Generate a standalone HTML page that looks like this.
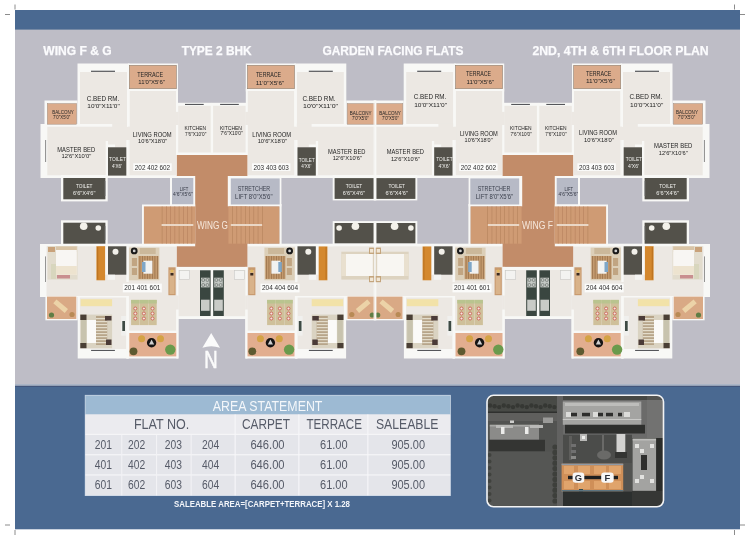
<!DOCTYPE html>
<html><head><meta charset="utf-8"><title>Wing F &amp; G - Type 2 BHK Floor Plan</title>
<style>
html,body{margin:0;padding:0;background:#fff;width:750px;height:540px;overflow:hidden}
svg{display:block}
#wrap{will-change:transform;width:750px;height:540px}
text{font-family:"Liberation Sans",sans-serif}
</style></head><body><div id="wrap">
<svg width="750" height="540" viewBox="0 0 750 540">
<defs>
<clipPath id="hc"><rect x="0" y="0" width="375.3" height="540"/></clipPath>
<clipPath id="aer"><rect x="487.5" y="395.8" width="175.5" height="110.5" rx="6"/></clipPath>
<g id="col">
<rect x="77.5" y="63.5" width="52.0" height="63.0" fill="#f8f8f6"/>
<rect x="128" y="63.5" width="50" height="28.0" fill="#f8f8f6"/>
<rect x="126.5" y="88.5" width="51.5" height="89.5" fill="#f8f8f6"/>
<rect x="44.5" y="100.5" width="33.0" height="26.0" fill="#f8f8f6"/>
<rect x="40.5" y="124" width="88.0" height="54" fill="#f8f8f6"/>
<rect x="176" y="102.8" width="36" height="52.4" fill="#f8f8f6"/>
<rect x="80" y="72" width="47" height="52" fill="#ece8e3"/>
<rect x="129.5" y="91" width="46.5" height="84.3" fill="#ece8e3"/>
<rect x="47.3" y="126.7" width="81.3" height="48.6" fill="#ece8e3"/>
<rect x="178.2" y="105.8" width="32.5" height="46.7" fill="#ece8e3"/>
<rect x="175.5" y="111.9" width="3.0" height="13.1" fill="#ece8e3"/>
<rect x="105.7" y="141" width="2.3" height="34.3" fill="#f8f8f6"/>
<rect x="126.3" y="140" width="2.4" height="35.3" fill="#f8f8f6"/>
<rect x="108" y="144.5" width="7" height="2.8" fill="#f8f8f6"/>
<rect x="127" y="72" width="2.5" height="54.7" fill="#f8f8f6"/>
<rect x="112.2" y="123.6" width="14.8" height="3.4" fill="#ece8e3"/>
<rect x="128" y="126.7" width="2" height="13.3" fill="#ece8e3"/>
<rect x="129.3" y="65.3" width="47.0" height="23.4" fill="#dbab8b" stroke="#8f7f70" stroke-width="0.6"/>
<rect x="47.3" y="103.6" width="29.3" height="20.6" fill="#dbab8b" stroke="#a08e80" stroke-width="0.5"/>
<rect x="108" y="147.3" width="18.3" height="28.3" fill="#53514a"/>
<rect x="91" y="70.7" width="24" height="1.2" fill="#55565a"/>
<rect x="185" y="103.9" width="18.7" height="1.1" fill="#55565a"/>
<rect x="45.1" y="140" width="1.0" height="22" fill="#8a8a8a"/>
<rect x="40" y="244" width="138.3" height="53" fill="#f8f8f6"/>
<rect x="45.4" y="296" width="32.3" height="24.3" fill="#f8f8f6"/>
<rect x="77.7" y="296" width="50.8" height="62.5" fill="#f8f8f6"/>
<rect x="126.5" y="244" width="52.0" height="114.5" fill="#f8f8f6"/>
<rect x="176.3" y="266.8" width="35.7" height="52.2" fill="#f8f8f6"/>
<rect x="46.5" y="246.3" width="129.8" height="49.7" fill="#ece8e3"/>
<rect x="128.7" y="246.3" width="47.6" height="84.5" fill="#ece8e3"/>
<rect x="79.9" y="297.5" width="46.6" height="51.5" fill="#ece8e3"/>
<rect x="178.4" y="270" width="32.2" height="46.2" fill="#ece8e3"/>
<rect x="126.3" y="246.3" width="2.4" height="35.7" fill="#f8f8f6"/>
<rect x="105.1" y="246.3" width="2.9" height="28.4" fill="#f8f8f6"/>
<rect x="126.3" y="296" width="2.6" height="62.5" fill="#f8f8f6"/>
<rect x="176.3" y="309.5" width="2.1" height="49.0" fill="#f8f8f6"/>
<rect x="176" y="295.5" width="2.6" height="14.0" fill="#ece8e3"/>
<rect x="128.7" y="330.8" width="47.6" height="2.2" fill="#f8f8f6"/>
<rect x="47" y="296.6" width="29.3" height="22.4" fill="#d9a985"/>
<rect x="129.3" y="333" width="47.0" height="23.4" fill="#e2ae8f"/>
<rect x="45.1" y="256.4" width="0.9" height="25.6" fill="#8a8a8a"/>
<rect x="91.1" y="349.9" width="23.8" height="1.1" fill="#55565a"/>
<rect x="108" y="245.7" width="18.3" height="29.0" fill="#53514a"/>
<circle cx="115.5" cy="251.8" r="3" fill="#f2f0ea"/>
<rect x="107.6" y="274.7" width="7.4" height="5.1" fill="#f4f4f2"/>
<rect x="96.4" y="246.2" width="8.7" height="34.1" fill="#d4882e"/>
<rect x="97.2" y="247" width="1.0" height="32.5" fill="#b8701f"/>
<rect x="129.1" y="247.6" width="30.3" height="32.7" fill="#dccfb8"/>
<rect x="138.4" y="256" width="20.1" height="22.9" fill="#c39a6e"/>
<rect x="139.5" y="256" width="0.8" height="22.9" fill="#9c744d"/>
<rect x="142" y="256" width="0.8" height="22.9" fill="#9c744d"/>
<rect x="144.5" y="256" width="0.8" height="22.9" fill="#9c744d"/>
<rect x="147" y="256" width="0.8" height="22.9" fill="#9c744d"/>
<rect x="149.5" y="256" width="0.8" height="22.9" fill="#9c744d"/>
<rect x="152" y="256" width="0.8" height="22.9" fill="#9c744d"/>
<rect x="154.5" y="256" width="0.8" height="22.9" fill="#9c744d"/>
<rect x="157" y="256" width="0.8" height="22.9" fill="#9c744d"/>
<rect x="139.8" y="248" width="15.9" height="6" fill="#cbb89a"/>
<rect x="143.5" y="260.7" width="8.9" height="13.0" fill="#f2f2f0"/>
<rect x="142" y="262" width="3.5" height="10" fill="#7fa6c6"/>
<rect x="131.9" y="258" width="5.1" height="8" fill="#c1a582"/>
<rect x="131.9" y="268" width="5.1" height="7" fill="#c1a582"/>
<circle cx="134.2" cy="250.9" r="3.4" fill="#1a1a1a"/>
<circle cx="134.2" cy="250.9" r="1.4" fill="#cfcfcf"/>
<rect x="168.4" y="267.3" width="7.2" height="27.9" fill="#c89a6f"/>
<rect x="169.5" y="270" width="5.0" height="24" fill="#d9b38a"/>
<circle cx="172" cy="271" r="1.6" fill="#e0b860"/>
<rect x="170.5" y="273" width="3.0" height="2.5" fill="#3a2a20"/>
<rect x="200" y="270.3" width="10.6" height="45.7" fill="#3a4640"/>
<rect x="201" y="277.7" width="8.6" height="9.7" fill="#c3c8c4"/>
<circle cx="203.2" cy="280" r="1.5" fill="none" stroke="#6d736f" stroke-width="0.7"/>
<circle cx="207.4" cy="280" r="1.5" fill="none" stroke="#6d736f" stroke-width="0.7"/>
<circle cx="203.2" cy="285" r="1.5" fill="none" stroke="#6d736f" stroke-width="0.7"/>
<circle cx="207.4" cy="285" r="1.5" fill="none" stroke="#6d736f" stroke-width="0.7"/>
<rect x="201" y="299.7" width="8.6" height="11.1" fill="#c9cbc7"/>
<rect x="179.2" y="270.6" width="10.3" height="8.7" fill="#f3f3f1" stroke="#c9c9c6" stroke-width="0.6"/>
<rect x="131.10000000000002" y="299.9" width="8.4" height="25.2" fill="#cfc09a"/>
<rect x="131.10000000000002" y="299.9" width="8.4" height="3.6" fill="#b9c48f"/>
<circle cx="135.3" cy="308.5" r="1.5" fill="#f4e6e0" stroke="#c9544a" stroke-width="0.8"/>
<circle cx="135.3" cy="313.5" r="1.5" fill="#f4e6e0" stroke="#c9544a" stroke-width="0.8"/>
<circle cx="135.3" cy="318.5" r="1.5" fill="#f4e6e0" stroke="#c9544a" stroke-width="0.8"/>
<rect x="139.70000000000002" y="299.9" width="8.4" height="25.2" fill="#cfc09a"/>
<rect x="139.70000000000002" y="299.9" width="8.4" height="3.6" fill="#b9c48f"/>
<circle cx="143.9" cy="308.5" r="1.5" fill="#f4e6e0" stroke="#c9544a" stroke-width="0.8"/>
<circle cx="143.9" cy="313.5" r="1.5" fill="#f4e6e0" stroke="#c9544a" stroke-width="0.8"/>
<circle cx="143.9" cy="318.5" r="1.5" fill="#f4e6e0" stroke="#c9544a" stroke-width="0.8"/>
<rect x="148.3" y="299.9" width="8.4" height="25.2" fill="#cfc09a"/>
<rect x="148.3" y="299.9" width="8.4" height="3.6" fill="#b9c48f"/>
<circle cx="152.5" cy="308.5" r="1.5" fill="#f4e6e0" stroke="#c9544a" stroke-width="0.8"/>
<circle cx="152.5" cy="313.5" r="1.5" fill="#f4e6e0" stroke="#c9544a" stroke-width="0.8"/>
<circle cx="152.5" cy="318.5" r="1.5" fill="#f4e6e0" stroke="#c9544a" stroke-width="0.8"/>
<rect x="80.6" y="299.2" width="31.5" height="7.0" fill="#f2e2a8"/>
<rect x="80.3" y="314.6" width="31.8" height="33.6" fill="#dad3c2"/>
<rect x="80.3" y="314.6" width="6.2" height="5.4" fill="#4a3f35"/>
<rect x="80.3" y="343" width="6.2" height="5.2" fill="#4a3f35"/>
<rect x="81" y="320" width="5.5" height="23" fill="#c8c3ae"/>
<rect x="86.9" y="320" width="9.1" height="23" fill="#fbfaf8"/>
<rect x="96" y="316" width="11.2" height="29" fill="#b7a58a"/>
<rect x="96" y="318" width="11.2" height="1.2" fill="#e3dccb"/>
<rect x="96" y="321" width="11.2" height="1.2" fill="#e3dccb"/>
<rect x="96" y="324" width="11.2" height="1.2" fill="#e3dccb"/>
<rect x="96" y="327" width="11.2" height="1.2" fill="#e3dccb"/>
<rect x="96" y="330" width="11.2" height="1.2" fill="#e3dccb"/>
<rect x="96" y="333" width="11.2" height="1.2" fill="#e3dccb"/>
<rect x="96" y="336" width="11.2" height="1.2" fill="#e3dccb"/>
<rect x="96" y="339" width="11.2" height="1.2" fill="#e3dccb"/>
<rect x="96" y="342" width="11.2" height="1.2" fill="#e3dccb"/>
<rect x="105" y="316" width="6.5" height="4.5" fill="#4b3b38"/>
<rect x="106" y="339.5" width="5.5" height="5.5" fill="#4b3b38"/>
<rect x="121.2" y="316" width="4.9" height="19.6" fill="#f0f0ee"/>
<rect x="122.3" y="321" width="2.7" height="10" fill="#3d4a44"/>
<rect x="53" y="304" width="15" height="5" fill="#ecd3a8" transform="rotate(40 61 306.5)"/>
<circle cx="51.5" cy="315" r="2.6" fill="#5f7d45"/>
<circle cx="72" cy="314.5" r="2.6" fill="#b88a55"/>
</g>
<g id="half" clip-path="url(#hc)">
<use href="#col"/>
<use href="#col" transform="translate(423.8,0) scale(-1,1)"/>
<rect x="107.5" y="176" width="226.0" height="2" fill="#f8f8f6"/>
<rect x="107.5" y="243.7" width="226.0" height="2.6" fill="#f8f8f6"/>
<rect x="176.8" y="155" width="70.6" height="111.8" fill="#c28c69"/>
<rect x="170" y="176" width="25.2" height="30.4" fill="#f8f8f6"/>
<rect x="172" y="178" width="21.3" height="26.5" fill="#b7bac6"/>
<rect x="142" y="204.5" width="53.2" height="41.8" fill="#f8f8f6"/>
<rect x="143.9" y="206.4" width="51.3" height="37.3" fill="#cf9b74"/>
<rect x="227.8" y="176" width="53.6" height="30.4" fill="#f8f8f6"/>
<rect x="279.4" y="204" width="2.2" height="42.3" fill="#f8f8f6"/>
<rect x="230.8" y="178.4" width="48.9" height="26.1" fill="#b7bac6"/>
<rect x="228.4" y="206.4" width="51.0" height="37.3" fill="#cf9b74"/>
<rect x="161.8" y="206.4" width="0.6" height="17.9" fill="#b5825d"/>
<rect x="161.8" y="225.9" width="0.6" height="17.8" fill="#b5825d"/>
<rect x="166.05" y="206.4" width="0.6" height="17.9" fill="#b5825d"/>
<rect x="166.05" y="225.9" width="0.6" height="17.8" fill="#b5825d"/>
<rect x="170.3" y="206.4" width="0.6" height="17.9" fill="#b5825d"/>
<rect x="170.3" y="225.9" width="0.6" height="17.8" fill="#b5825d"/>
<rect x="174.55" y="206.4" width="0.6" height="17.9" fill="#b5825d"/>
<rect x="174.55" y="225.9" width="0.6" height="17.8" fill="#b5825d"/>
<rect x="178.8" y="206.4" width="0.6" height="17.9" fill="#b5825d"/>
<rect x="178.8" y="225.9" width="0.6" height="17.8" fill="#b5825d"/>
<rect x="183.05" y="206.4" width="0.6" height="17.9" fill="#b5825d"/>
<rect x="183.05" y="225.9" width="0.6" height="17.8" fill="#b5825d"/>
<rect x="187.3" y="206.4" width="0.6" height="17.9" fill="#b5825d"/>
<rect x="187.3" y="225.9" width="0.6" height="17.8" fill="#b5825d"/>
<rect x="191.55" y="206.4" width="0.6" height="17.9" fill="#b5825d"/>
<rect x="191.55" y="225.9" width="0.6" height="17.8" fill="#b5825d"/>
<rect x="262.0" y="206.4" width="0.6" height="17.9" fill="#b5825d"/>
<rect x="262.0" y="225.9" width="0.6" height="17.8" fill="#b5825d"/>
<rect x="257.75" y="206.4" width="0.6" height="17.9" fill="#b5825d"/>
<rect x="257.75" y="225.9" width="0.6" height="17.8" fill="#b5825d"/>
<rect x="253.5" y="206.4" width="0.6" height="17.9" fill="#b5825d"/>
<rect x="253.5" y="225.9" width="0.6" height="17.8" fill="#b5825d"/>
<rect x="249.25" y="206.4" width="0.6" height="17.9" fill="#b5825d"/>
<rect x="249.25" y="225.9" width="0.6" height="17.8" fill="#b5825d"/>
<rect x="245.0" y="206.4" width="0.6" height="17.9" fill="#b5825d"/>
<rect x="245.0" y="225.9" width="0.6" height="17.8" fill="#b5825d"/>
<rect x="240.75" y="206.4" width="0.6" height="17.9" fill="#b5825d"/>
<rect x="240.75" y="225.9" width="0.6" height="17.8" fill="#b5825d"/>
<rect x="236.5" y="206.4" width="0.6" height="17.9" fill="#b5825d"/>
<rect x="236.5" y="225.9" width="0.6" height="17.8" fill="#b5825d"/>
<rect x="232.25" y="206.4" width="0.6" height="17.9" fill="#b5825d"/>
<rect x="232.25" y="225.9" width="0.6" height="17.8" fill="#b5825d"/>
<rect x="161.6" y="224.2" width="31.7" height="1.6" fill="#f1e6da"/>
<rect x="230.8" y="224.2" width="31.2" height="1.6" fill="#f1e6da"/>
<rect x="61" y="175" width="46.7" height="26.4" fill="#f8f8f6"/>
<rect x="63.3" y="178" width="42.1" height="21.3" fill="#53514a"/>
<rect x="104.8" y="181" width="0.8" height="15" fill="#8a8a8a"/>
<rect x="61" y="220.3" width="46.7" height="25.7" fill="#f8f8f6"/>
<rect x="63.3" y="222.7" width="42.1" height="21.0" fill="#53514a"/>
<circle cx="83.7" cy="226.3" r="3.8" fill="#f3f1ea"/>
<circle cx="98.3" cy="228" r="2.8" fill="#f3f1ea"/>
<rect x="104.8" y="226" width="0.8" height="14" fill="#8a8a8a"/>
<rect x="332.7" y="175" width="43.3" height="25.4" fill="#f8f8f6"/>
<rect x="334.6" y="178.1" width="39.3" height="20.8" fill="#53514a"/>
<rect x="332.7" y="221.1" width="43.3" height="24.9" fill="#f8f8f6"/>
<rect x="334.6" y="223" width="39.3" height="20.3" fill="#53514a"/>
<circle cx="339.1" cy="228" r="2.8" fill="#f3f1ea"/>
<circle cx="355.4" cy="226.3" r="3.8" fill="#f3f1ea"/>
<rect x="373.6" y="100.4" width="3.4" height="100.0" fill="#f8f8f6"/>
<rect x="373.6" y="221.1" width="3.4" height="99.2" fill="#f8f8f6"/>
<rect x="47.5" y="246" width="30.1" height="33.6" fill="#e2dccd"/>
<rect x="48" y="247" width="7" height="5" fill="#c9a27a"/>
<rect x="56" y="246.5" width="20.8" height="5.5" fill="#d9c4a6"/>
<rect x="56" y="250" width="20.8" height="24.8" fill="#f8f6f3"/>
<rect x="56" y="266" width="20.8" height="8.8" fill="#ede3cf"/>
<rect x="51" y="264" width="5" height="15" fill="#d8d6bd"/>
<rect x="57" y="275" width="13" height="3.5" fill="#c98f8f"/>
<rect x="341.3" y="251.7" width="33.0" height="27.9" fill="#ddd3c0"/>
<rect x="345.7" y="254" width="27.1" height="22" fill="#f8f6f2"/>
<rect x="341.3" y="254" width="4.7" height="22" fill="#e9e0cf"/>
<rect x="369" y="247.6" width="5.3" height="6.4" fill="#c4a57d"/>
<rect x="369" y="276" width="5.3" height="6.2" fill="#c4a57d"/>
<rect x="370" y="249" width="3.3" height="3.6" fill="#f1e7d6"/>
<rect x="370" y="277.6" width="3.3" height="3.4" fill="#f1e7d6"/>
</g>
</defs>
<rect x="15" y="10" width="725" height="374.4" fill="#bebdc6"/>
<rect x="15" y="10" width="725" height="19.6" fill="#4a6991"/>
<use href="#half"/>
<use href="#half" transform="translate(750,0) scale(-1,1)"/>
<rect x="133.3" y="163.3" width="38.4" height="7.6" fill="#fbfbfa"/>
<rect x="252.0" y="163.3" width="38.4" height="7.6" fill="#fbfbfa"/>
<rect x="459.2" y="163.3" width="38.4" height="7.6" fill="#fbfbfa"/>
<rect x="577.4" y="163.3" width="38.4" height="7.6" fill="#fbfbfa"/>
<rect x="122.8" y="283.6" width="39.0" height="8.8" fill="#fbfbfa"/>
<rect x="260.5" y="283.6" width="39.0" height="8.8" fill="#fbfbfa"/>
<rect x="452.5" y="283.6" width="39.0" height="8.8" fill="#fbfbfa"/>
<rect x="584.7" y="283.6" width="39.0" height="8.8" fill="#fbfbfa"/>
<circle cx="151.6" cy="342.8" r="4.7" fill="#161414"/>
<path d="M151.6 339.6 L154.2 344.4 L149 344.4 Z" fill="#cfcfcf"/>
<circle cx="141.6" cy="338.8" r="3.5" fill="#d4a345"/>
<circle cx="160.5" cy="338.8" r="3.5" fill="#d4a345"/>
<circle cx="133.5" cy="351.3" r="3.9" fill="#5e5a30"/>
<circle cx="170.3" cy="349.6" r="5.2" fill="#6a9a4c"/>
<circle cx="270.4" cy="342.8" r="4.7" fill="#161414"/>
<path d="M270.4 339.6 L273.0 344.4 L267.8 344.4 Z" fill="#cfcfcf"/>
<circle cx="260.4" cy="338.8" r="3.5" fill="#d4a345"/>
<circle cx="279.3" cy="338.8" r="3.5" fill="#d4a345"/>
<circle cx="252.3" cy="351.3" r="3.9" fill="#5e5a30"/>
<circle cx="289.1" cy="349.6" r="5.2" fill="#6a9a4c"/>
<circle cx="479.6" cy="342.8" r="4.7" fill="#161414"/>
<path d="M479.6 339.6 L482.2 344.4 L477 344.4 Z" fill="#cfcfcf"/>
<circle cx="469.6" cy="338.8" r="3.5" fill="#d4a345"/>
<circle cx="488.5" cy="338.8" r="3.5" fill="#d4a345"/>
<circle cx="461.5" cy="351.3" r="3.9" fill="#5e5a30"/>
<circle cx="498.3" cy="349.6" r="5.2" fill="#6a9a4c"/>
<circle cx="598.4" cy="342.8" r="4.7" fill="#161414"/>
<path d="M598.4 339.6 L601.0 344.4 L595.8 344.4 Z" fill="#cfcfcf"/>
<circle cx="588.4" cy="338.8" r="3.5" fill="#d4a345"/>
<circle cx="607.3" cy="338.8" r="3.5" fill="#d4a345"/>
<circle cx="580.3" cy="351.3" r="3.9" fill="#5e5a30"/>
<circle cx="617.1" cy="349.6" r="5.2" fill="#6a9a4c"/>
<path d="M211.2 333.1 L220 347.7 Q211.2 344.6 202.4 347.7 Z" fill="#fbfbfb"/>
<text x="204.3" y="368" font-size="23" fill="#fbfbfb" stroke="#fbfbfb" stroke-width="0.55" textLength="13.4" lengthAdjust="spacingAndGlyphs">N</text>
<line x1="15" y1="4.5" x2="15" y2="9.5" stroke="#6e6e6e" stroke-width="0.8"/>
<line x1="5" y1="14.5" x2="10" y2="14.5" stroke="#6e6e6e" stroke-width="0.8"/>
<line x1="734.5" y1="4.5" x2="734.5" y2="9.5" stroke="#6e6e6e" stroke-width="0.8"/>
<line x1="740" y1="14.5" x2="745" y2="14.5" stroke="#6e6e6e" stroke-width="0.8"/>
<line x1="15" y1="530" x2="15" y2="535" stroke="#6e6e6e" stroke-width="0.8"/>
<line x1="5" y1="525" x2="10" y2="525" stroke="#6e6e6e" stroke-width="0.8"/>
<line x1="734.5" y1="530" x2="734.5" y2="535" stroke="#6e6e6e" stroke-width="0.8"/>
<line x1="740" y1="525" x2="745" y2="525" stroke="#6e6e6e" stroke-width="0.8"/>
<rect x="15" y="384.4" width="725" height="144.9" fill="#4a6991"/>
<rect x="15" y="384.4" width="725" height="1.4" fill="#c3c7d3"/>
<rect x="15" y="385.8" width="725" height="1.1" fill="#42557a"/>
<rect x="84.80000000000001" y="394.9" width="366.0" height="101.1" fill="#c9d6e6"/>
<rect x="85.4" y="395.5" width="364.8" height="99.8" fill="#e4e5ea"/>
<rect x="85.4" y="395.5" width="364.8" height="19.0" fill="#9dbad3"/>
<rect x="85.4" y="414.5" width="364.8" height="19.3" fill="#ebebef"/>
<rect x="85.4" y="433.8" width="364.8" height="1.1" fill="#f7f7f9"/>
<rect x="85.4" y="454.2" width="364.8" height="1.1" fill="#f7f7f9"/>
<rect x="85.4" y="474.4" width="364.8" height="1.1" fill="#f7f7f9"/>
<rect x="234.6" y="414.5" width="1.1" height="80.8" fill="#f7f7f9"/>
<rect x="298.3" y="414.5" width="1.1" height="80.8" fill="#f7f7f9"/>
<rect x="367.3" y="414.5" width="1.1" height="80.8" fill="#f7f7f9"/>
<rect x="121.2" y="434.8" width="1.1" height="60.5" fill="#f2f2f5"/>
<rect x="156" y="434.8" width="1.1" height="60.5" fill="#f2f2f5"/>
<rect x="190.6" y="434.8" width="1.1" height="60.5" fill="#f2f2f5"/>
<g clip-path="url(#aer)"><rect x="486" y="394" width="179" height="114" fill="#525351"/><rect x="486" y="394" width="76" height="18" fill="#484a46"/><circle cx="490.0" cy="405.5" r="2.2" fill="#353733"/><circle cx="494.6" cy="406.3" r="2.2" fill="#353733"/><circle cx="499.2" cy="407.1" r="2.2" fill="#353733"/><circle cx="503.8" cy="405.5" r="2.2" fill="#353733"/><circle cx="508.4" cy="406.3" r="2.2" fill="#353733"/><circle cx="513.0" cy="407.1" r="2.2" fill="#353733"/><circle cx="517.6" cy="405.5" r="2.2" fill="#353733"/><circle cx="522.2" cy="406.3" r="2.2" fill="#353733"/><circle cx="526.8" cy="407.1" r="2.2" fill="#353733"/><circle cx="531.4" cy="405.5" r="2.2" fill="#353733"/><circle cx="536.0" cy="406.3" r="2.2" fill="#353733"/><circle cx="540.6" cy="407.1" r="2.2" fill="#353733"/><circle cx="545.2" cy="405.5" r="2.2" fill="#353733"/><circle cx="549.8" cy="406.3" r="2.2" fill="#353733"/><circle cx="554.4" cy="407.1" r="2.2" fill="#353733"/><rect x="486" y="411.5" width="76" height="1.5" fill="#2f302e"/><rect x="486" y="413" width="71" height="8" fill="#5f5f5d"/><rect x="510" y="420.5" width="4" height="2.5" fill="#cfcfcd"/><rect x="543" y="417.5" width="10" height="5.5" fill="#9a9a98"/><rect x="489.8" y="424.8" width="49.2" height="15.0" fill="#8b8b89"/><rect x="489.8" y="424.8" width="49.2" height="1.7" fill="#a8a8a6"/><rect x="496" y="425" width="17" height="3" fill="#b9b9b7"/><rect x="530" y="425" width="13" height="3" fill="#b9b9b7"/><rect x="501" y="427" width="3.5" height="7" fill="#ececea"/><rect x="525" y="427" width="3.5" height="7" fill="#ececea"/><rect x="489" y="439.8" width="56" height="11.7" fill="#343533"/><rect x="486" y="451.5" width="67" height="56.5" fill="#555654"/><circle cx="555" cy="447.0" r="2.6" fill="#3d3f3b"/><circle cx="555" cy="452.4" r="2.6" fill="#3d3f3b"/><circle cx="555" cy="457.8" r="2.6" fill="#3d3f3b"/><circle cx="555" cy="463.2" r="2.6" fill="#3d3f3b"/><circle cx="555" cy="468.6" r="2.6" fill="#3d3f3b"/><circle cx="555" cy="474.0" r="2.6" fill="#3d3f3b"/><circle cx="555" cy="479.4" r="2.6" fill="#3d3f3b"/><circle cx="555" cy="484.8" r="2.6" fill="#3d3f3b"/><circle cx="555" cy="490.2" r="2.6" fill="#3d3f3b"/><circle cx="555" cy="495.6" r="2.6" fill="#3d3f3b"/><circle cx="555" cy="501.0" r="2.6" fill="#3d3f3b"/><circle cx="489.5" cy="455.0" r="2" fill="#40423e"/><circle cx="489.5" cy="461.5" r="2" fill="#40423e"/><circle cx="489.5" cy="468.0" r="2" fill="#40423e"/><circle cx="489.5" cy="474.5" r="2" fill="#40423e"/><circle cx="489.5" cy="481.0" r="2" fill="#40423e"/><circle cx="489.5" cy="487.5" r="2" fill="#40423e"/><circle cx="489.5" cy="494.0" r="2" fill="#40423e"/><circle cx="489.5" cy="500.5" r="2" fill="#40423e"/><rect x="557" y="394" width="6" height="114" fill="#626261"/><rect x="563" y="394" width="84" height="6" fill="#454744"/><rect x="563" y="400" width="102" height="38" fill="#6b6b6a"/><rect x="562.8" y="401.5" width="78.5" height="23.3" fill="#a4a4a2"/><rect x="565" y="403" width="74" height="3" fill="#bdbdbb"/><rect x="571" y="412.8" width="6" height="3.5" fill="#2e2e2d"/><rect x="582" y="412.8" width="8" height="3.5" fill="#2e2e2d"/><rect x="598" y="412.8" width="5" height="3.5" fill="#2e2e2d"/><rect x="606" y="412.8" width="7" height="3.5" fill="#2e2e2d"/><rect x="618" y="412.8" width="4" height="3.5" fill="#2e2e2d"/><rect x="566" y="412" width="5" height="5" fill="#dcdcda"/><rect x="593" y="412" width="5" height="5" fill="#dcdcda"/><rect x="624" y="412" width="6" height="5" fill="#dcdcda"/><rect x="562.8" y="419" width="78.5" height="1" fill="#c9c9c7"/><rect x="565" y="424.8" width="80" height="8.7" fill="#2e2f2d"/><rect x="563" y="434.7" width="69" height="28.3" fill="#4b4c4a"/><rect x="569" y="436" width="3" height="24" fill="#5e5e5c"/><rect x="580" y="434" width="7" height="7" fill="#b9b9b7"/><rect x="582" y="436" width="3" height="3" fill="#eeeeec"/><rect x="571" y="444" width="5" height="3" fill="#707070"/><rect x="571" y="450" width="5" height="3" fill="#707070"/><rect x="571" y="456" width="5" height="3" fill="#8a8a88"/><rect x="602" y="435" width="2" height="17" fill="#6a6a68"/><ellipse cx="604" cy="455" rx="7" ry="4.5" fill="#6a6a68"/><rect x="616.5" y="434" width="8.8" height="18" fill="#d3d3d1"/><rect x="615" y="452" width="12" height="6" fill="#333432"/><rect x="561.6" y="463.7" width="61.6" height="27.9" fill="#cf8f58"/><rect x="561.6" y="463.7" width="61.6" height="1.5" fill="#8f9aa6"/><rect x="564" y="466" width="10" height="8" fill="#e0a46c"/><rect x="578" y="466" width="12" height="8" fill="#e0a46c"/><rect x="594" y="466" width="12" height="8" fill="#e0a46c"/><rect x="609" y="466" width="12" height="8" fill="#e0a46c"/><rect x="564" y="481" width="10" height="8" fill="#e0a46c"/><rect x="578" y="481" width="12" height="8" fill="#e0a46c"/><rect x="594" y="481" width="12" height="8" fill="#e0a46c"/><rect x="609" y="481" width="12" height="8" fill="#e0a46c"/><rect x="568" y="475.8" width="50" height="3.4" fill="#1f1f1f"/><rect x="579" y="489" width="4" height="2.6" fill="#2d4b52"/><rect x="561.6" y="490" width="61.6" height="1.6" fill="#5c7480"/><rect x="563" y="491.6" width="70" height="16.4" fill="#2c2f2e"/><rect x="572.6" y="472.5" width="11.7" height="10.3" rx="3" fill="#f7f7f7"/><rect x="601.2" y="472.5" width="12.5" height="10.3" rx="3" fill="#f7f7f7"/><text x="578.4" y="481.3" font-size="9.4" font-weight="bold" fill="#2d3038" text-anchor="middle">G</text><text x="607.4" y="481.3" font-size="9.4" font-weight="bold" fill="#2d3038" text-anchor="middle">F</text><rect x="632.7" y="438.8" width="23.5" height="52.1" fill="#a3a3a1"/><rect x="641" y="455" width="6" height="15" fill="#2e2e2d"/><rect x="635" y="444" width="4" height="4" fill="#e2e2e0"/><rect x="650" y="444" width="4" height="4" fill="#e2e2e0"/><rect x="635" y="479" width="4" height="4" fill="#e2e2e0"/><rect x="650" y="479" width="4" height="4" fill="#e2e2e0"/><rect x="640" y="449" width="4" height="4" fill="#e2e2e0"/><rect x="640" y="475" width="4" height="4" fill="#e2e2e0"/><rect x="632.7" y="438.8" width="23.5" height="1.7" fill="#bdbdbb"/><rect x="656.2" y="438" width="8.8" height="70" fill="#2b2c2a"/><rect x="632" y="490.9" width="33" height="17.1" fill="#363735"/><rect x="647" y="400" width="18" height="38" fill="#727271"/></g>
<rect x="487" y="395.3" width="176.5" height="111.5" rx="6.5" fill="none" stroke="#f3f3f3" stroke-width="1.6"/>
<g><text x="150.2" y="77.0" font-size="6.4" fill="#242424" text-anchor="middle" textLength="26" lengthAdjust="spacingAndGlyphs">TERRACE</text>
<text x="151.6" y="84.0" font-size="6.1" fill="#242424" text-anchor="middle" textLength="26.7" lengthAdjust="spacingAndGlyphs">11'0&quot;X5'6&quot;</text>
<text x="103" y="100.9" font-size="6.4" fill="#242424" text-anchor="middle" textLength="32.6" lengthAdjust="spacingAndGlyphs">C.BED RM.</text>
<text x="103.5" y="107.6" font-size="6.1" fill="#242424" text-anchor="middle" textLength="32.4" lengthAdjust="spacingAndGlyphs">10'0&quot;X11'0&quot;</text>
<text x="63" y="114.3" font-size="4.6" fill="#242424" text-anchor="middle" textLength="21.4" lengthAdjust="spacingAndGlyphs">BALCONY</text>
<text x="61.7" y="119.3" font-size="4.6" fill="#242424" text-anchor="middle" textLength="17.3" lengthAdjust="spacingAndGlyphs">7'0&quot;X5'0&quot;</text>
<text x="152.2" y="136.8" font-size="6.4" fill="#242424" text-anchor="middle" textLength="38.8" lengthAdjust="spacingAndGlyphs">LIVING ROOM</text>
<text x="152.7" y="143.3" font-size="6.1" fill="#242424" text-anchor="middle" textLength="29.3" lengthAdjust="spacingAndGlyphs">10'6&quot;X18'0&quot;</text>
<text x="195.3" y="130" font-size="5.6" fill="#242424" text-anchor="middle" textLength="21.6" lengthAdjust="spacingAndGlyphs">KITCHEN</text>
<text x="195.7" y="135.6" font-size="5.6" fill="#242424" text-anchor="middle" textLength="21.3" lengthAdjust="spacingAndGlyphs">7'6&quot;X10'0&quot;</text>
<text x="76.2" y="151.7" font-size="6.4" fill="#242424" text-anchor="middle" textLength="37.9" lengthAdjust="spacingAndGlyphs">MASTER BED</text>
<text x="76.4" y="158.3" font-size="6.1" fill="#242424" text-anchor="middle" textLength="29.8" lengthAdjust="spacingAndGlyphs">12'6&quot;X10'0&quot;</text>
<text x="117.5" y="161.4" font-size="5.6" fill="#f1f1ee" text-anchor="middle" textLength="16.8" lengthAdjust="spacingAndGlyphs">TOILET</text>
<text x="117" y="168.2" font-size="5.6" fill="#f1f1ee" text-anchor="middle" textLength="10.2" lengthAdjust="spacingAndGlyphs">4'X6'</text>
<text x="268.5" y="77.2" font-size="6.4" fill="#242424" text-anchor="middle" textLength="25.2" lengthAdjust="spacingAndGlyphs">TERRACE</text>
<text x="270" y="84.8" font-size="6.1" fill="#242424" text-anchor="middle" textLength="28.5" lengthAdjust="spacingAndGlyphs">11'0&quot;X5'6&quot;</text>
<text x="319" y="100.7" font-size="6.4" fill="#242424" text-anchor="middle" textLength="33.1" lengthAdjust="spacingAndGlyphs">C.BED RM.</text>
<text x="320.5" y="107.6" font-size="6.1" fill="#242424" text-anchor="middle" textLength="35" lengthAdjust="spacingAndGlyphs">10'0&quot;X11'0&quot;</text>
<text x="360.7" y="114.7" font-size="4.6" fill="#242424" text-anchor="middle" textLength="21.8" lengthAdjust="spacingAndGlyphs">BALCONY</text>
<text x="360.4" y="120" font-size="4.6" fill="#242424" text-anchor="middle" textLength="16.8" lengthAdjust="spacingAndGlyphs">7'0&quot;X5'0&quot;</text>
<text x="271.7" y="136.6" font-size="6.4" fill="#242424" text-anchor="middle" textLength="38.8" lengthAdjust="spacingAndGlyphs">LIVING ROOM</text>
<text x="272.3" y="142.9" font-size="6.1" fill="#242424" text-anchor="middle" textLength="29.3" lengthAdjust="spacingAndGlyphs">10'6&quot;X18'0&quot;</text>
<text x="231" y="130" font-size="5.6" fill="#242424" text-anchor="middle" textLength="22" lengthAdjust="spacingAndGlyphs">KITCHEN</text>
<text x="231.7" y="135.4" font-size="5.6" fill="#242424" text-anchor="middle" textLength="22.2" lengthAdjust="spacingAndGlyphs">7'6&quot;X10'0&quot;</text>
<text x="346.7" y="154" font-size="6.4" fill="#242424" text-anchor="middle" textLength="37.3" lengthAdjust="spacingAndGlyphs">MASTER BED</text>
<text x="347.3" y="159.7" font-size="6.1" fill="#242424" text-anchor="middle" textLength="29.3" lengthAdjust="spacingAndGlyphs">12'6&quot;X10'6&quot;</text>
<text x="306.7" y="161.6" font-size="5.6" fill="#f1f1ee" text-anchor="middle" textLength="16" lengthAdjust="spacingAndGlyphs">TOILET</text>
<text x="306.3" y="168" font-size="5.6" fill="#f1f1ee" text-anchor="middle" textLength="10" lengthAdjust="spacingAndGlyphs">4'X6'</text>
<text x="478.6" y="76.4" font-size="6.4" fill="#242424" text-anchor="middle" textLength="25" lengthAdjust="spacingAndGlyphs">TERRACE</text>
<text x="480.3" y="83.7" font-size="6.1" fill="#242424" text-anchor="middle" textLength="27.6" lengthAdjust="spacingAndGlyphs">11'0&quot;X5'6&quot;</text>
<text x="430" y="99.2" font-size="6.4" fill="#242424" text-anchor="middle" textLength="32.5" lengthAdjust="spacingAndGlyphs">C.BED RM.</text>
<text x="430.6" y="107" font-size="6.1" fill="#242424" text-anchor="middle" textLength="32.7" lengthAdjust="spacingAndGlyphs">10'0&quot;X11'0&quot;</text>
<text x="390" y="115.1" font-size="4.6" fill="#242424" text-anchor="middle" textLength="21.7" lengthAdjust="spacingAndGlyphs">BALCONY</text>
<text x="390.5" y="119.7" font-size="4.6" fill="#242424" text-anchor="middle" textLength="16.8" lengthAdjust="spacingAndGlyphs">7'0&quot;X5'0&quot;</text>
<text x="478.9" y="135.9" font-size="6.4" fill="#242424" text-anchor="middle" textLength="37.9" lengthAdjust="spacingAndGlyphs">LIVING ROOM</text>
<text x="478.6" y="142" font-size="6.1" fill="#242424" text-anchor="middle" textLength="28" lengthAdjust="spacingAndGlyphs">10'6&quot;X18'0&quot;</text>
<text x="520.8" y="130" font-size="5.6" fill="#242424" text-anchor="middle" textLength="21.6" lengthAdjust="spacingAndGlyphs">KITCHEN</text>
<text x="521.2" y="135.6" font-size="5.6" fill="#242424" text-anchor="middle" textLength="21.3" lengthAdjust="spacingAndGlyphs">7'6&quot;X10'0&quot;</text>
<text x="405.3" y="153.6" font-size="6.4" fill="#242424" text-anchor="middle" textLength="37.3" lengthAdjust="spacingAndGlyphs">MASTER BED</text>
<text x="405.4" y="160.7" font-size="6.1" fill="#242424" text-anchor="middle" textLength="28.9" lengthAdjust="spacingAndGlyphs">12'6&quot;X10'6&quot;</text>
<text x="444.4" y="161.4" font-size="5.6" fill="#f1f1ee" text-anchor="middle" textLength="16.3" lengthAdjust="spacingAndGlyphs">TOILET</text>
<text x="444.1" y="168.2" font-size="5.6" fill="#f1f1ee" text-anchor="middle" textLength="11.2" lengthAdjust="spacingAndGlyphs">4'X6'</text>
<text x="598.7" y="75.9" font-size="6.4" fill="#242424" text-anchor="middle" textLength="25.5" lengthAdjust="spacingAndGlyphs">TERRACE</text>
<text x="600.4" y="82.8" font-size="6.1" fill="#242424" text-anchor="middle" textLength="28.9" lengthAdjust="spacingAndGlyphs">11'0&quot;X5'6&quot;</text>
<text x="645.9" y="98.6" font-size="6.4" fill="#242424" text-anchor="middle" textLength="33" lengthAdjust="spacingAndGlyphs">C.BED RM.</text>
<text x="646.7" y="106.7" font-size="6.1" fill="#242424" text-anchor="middle" textLength="33.2" lengthAdjust="spacingAndGlyphs">10'0&quot;X11'0&quot;</text>
<text x="687" y="114.1" font-size="4.6" fill="#242424" text-anchor="middle" textLength="21.9" lengthAdjust="spacingAndGlyphs">BALCONY</text>
<text x="686.6" y="119.4" font-size="4.6" fill="#242424" text-anchor="middle" textLength="17.5" lengthAdjust="spacingAndGlyphs">7'0&quot;X5'0&quot;</text>
<text x="598" y="135.3" font-size="6.4" fill="#242424" text-anchor="middle" textLength="38" lengthAdjust="spacingAndGlyphs">LIVING ROOM</text>
<text x="599" y="141.5" font-size="6.1" fill="#242424" text-anchor="middle" textLength="29.9" lengthAdjust="spacingAndGlyphs">10'6&quot;X18'0&quot;</text>
<text x="555.7" y="130" font-size="5.6" fill="#242424" text-anchor="middle" textLength="21.6" lengthAdjust="spacingAndGlyphs">KITCHEN</text>
<text x="556" y="135.6" font-size="5.6" fill="#242424" text-anchor="middle" textLength="21.3" lengthAdjust="spacingAndGlyphs">7'6&quot;X10'0&quot;</text>
<text x="673.2" y="147.6" font-size="6.4" fill="#242424" text-anchor="middle" textLength="38.3" lengthAdjust="spacingAndGlyphs">MASTER BED</text>
<text x="673.2" y="154.5" font-size="6.1" fill="#242424" text-anchor="middle" textLength="28.9" lengthAdjust="spacingAndGlyphs">12'6&quot;X10'6&quot;</text>
<text x="633.8" y="161.4" font-size="5.6" fill="#f1f1ee" text-anchor="middle" textLength="16.3" lengthAdjust="spacingAndGlyphs">TOILET</text>
<text x="633.5" y="167.6" font-size="5.6" fill="#f1f1ee" text-anchor="middle" textLength="11.1" lengthAdjust="spacingAndGlyphs">4'X6'</text>
<text x="84.2" y="188.4" font-size="5.6" fill="#f1f1ee" text-anchor="middle" textLength="16.6" lengthAdjust="spacingAndGlyphs">TOILET</text>
<text x="84.2" y="194.7" font-size="5.6" fill="#f1f1ee" text-anchor="middle" textLength="22.5" lengthAdjust="spacingAndGlyphs">6'6&quot;X4'6&quot;</text>
<text x="354" y="188.4" font-size="5.6" fill="#f1f1ee" text-anchor="middle" textLength="16.6" lengthAdjust="spacingAndGlyphs">TOILET</text>
<text x="354" y="194.7" font-size="5.6" fill="#f1f1ee" text-anchor="middle" textLength="22.5" lengthAdjust="spacingAndGlyphs">6'6&quot;X4'6&quot;</text>
<text x="396.7" y="188.4" font-size="5.6" fill="#f1f1ee" text-anchor="middle" textLength="16.6" lengthAdjust="spacingAndGlyphs">TOILET</text>
<text x="396.7" y="194.7" font-size="5.6" fill="#f1f1ee" text-anchor="middle" textLength="22.5" lengthAdjust="spacingAndGlyphs">6'6&quot;X4'6&quot;</text>
<text x="667.6" y="188.4" font-size="5.6" fill="#f1f1ee" text-anchor="middle" textLength="16.6" lengthAdjust="spacingAndGlyphs">TOILET</text>
<text x="667.6" y="194.7" font-size="5.6" fill="#f1f1ee" text-anchor="middle" textLength="22.5" lengthAdjust="spacingAndGlyphs">6'6&quot;X4'6&quot;</text>
<text x="152.5" y="169.6" font-size="7" fill="#2e2e2e" text-anchor="middle" textLength="35.3" lengthAdjust="spacingAndGlyphs">202 402 602</text>
<text x="271.2" y="169.6" font-size="7" fill="#2e2e2e" text-anchor="middle" textLength="35.3" lengthAdjust="spacingAndGlyphs">203 403 603</text>
<text x="478.4" y="169.6" font-size="7" fill="#2e2e2e" text-anchor="middle" textLength="35.3" lengthAdjust="spacingAndGlyphs">202 402 602</text>
<text x="596.6" y="169.6" font-size="7" fill="#2e2e2e" text-anchor="middle" textLength="35.3" lengthAdjust="spacingAndGlyphs">203 403 603</text>
<text x="142.3" y="290.2" font-size="7" fill="#2e2e2e" text-anchor="middle" textLength="36.2" lengthAdjust="spacingAndGlyphs">201 401 601</text>
<text x="280" y="290.2" font-size="7" fill="#2e2e2e" text-anchor="middle" textLength="36.2" lengthAdjust="spacingAndGlyphs">204 404 604</text>
<text x="472" y="290.2" font-size="7" fill="#2e2e2e" text-anchor="middle" textLength="36.2" lengthAdjust="spacingAndGlyphs">201 401 601</text>
<text x="604.2" y="290.2" font-size="7" fill="#2e2e2e" text-anchor="middle" textLength="36.2" lengthAdjust="spacingAndGlyphs">204 404 604</text>
<text x="184" y="190.7" font-size="4.8" fill="#343845" text-anchor="middle" textLength="8.5" lengthAdjust="spacingAndGlyphs">LIFT</text>
<text x="182.9" y="196.3" font-size="4.8" fill="#343845" text-anchor="middle" textLength="19.7" lengthAdjust="spacingAndGlyphs">4'6&quot;X5'6&quot;</text>
<text x="568.7" y="190.7" font-size="4.8" fill="#343845" text-anchor="middle" textLength="8.5" lengthAdjust="spacingAndGlyphs">LIFT</text>
<text x="568.4" y="196.3" font-size="4.8" fill="#343845" text-anchor="middle" textLength="19.7" lengthAdjust="spacingAndGlyphs">4'6&quot;X5'6&quot;</text>
<text x="253.9" y="191.3" font-size="6.4" fill="#3a3f4c" text-anchor="middle" textLength="32.5" lengthAdjust="spacingAndGlyphs">STRETCHER</text>
<text x="253.8" y="198.8" font-size="6.4" fill="#3a3f4c" text-anchor="middle" textLength="37.4" lengthAdjust="spacingAndGlyphs">LIFT 8'0&quot;X5'6&quot;</text>
<text x="494" y="191.3" font-size="6.4" fill="#3a3f4c" text-anchor="middle" textLength="32.5" lengthAdjust="spacingAndGlyphs">STRETCHER</text>
<text x="494.5" y="198.8" font-size="6.4" fill="#3a3f4c" text-anchor="middle" textLength="37.4" lengthAdjust="spacingAndGlyphs">LIFT 8'0&quot;X5'6&quot;</text>
<text x="212.5" y="229.4" font-size="10.5" fill="#f6e8dc" text-anchor="middle" textLength="31" lengthAdjust="spacingAndGlyphs">WING G</text>
<text x="537.5" y="229.4" font-size="10.5" fill="#f6e8dc" text-anchor="middle" textLength="31.0" lengthAdjust="spacingAndGlyphs">WING F</text>
<text x="267.6" y="411.3" font-size="14" fill="#f4f7fa" text-anchor="middle" textLength="109.6" lengthAdjust="spacingAndGlyphs">AREA STATEMENT</text>
<text x="161.6" y="429.2" font-size="14.5" fill="#565b68" text-anchor="middle" textLength="55.3" lengthAdjust="spacingAndGlyphs">FLAT NO.</text>
<text x="266" y="429.2" font-size="14.5" fill="#565b68" text-anchor="middle" textLength="48" lengthAdjust="spacingAndGlyphs">CARPET</text>
<text x="334.2" y="429.2" font-size="14.5" fill="#565b68" text-anchor="middle" textLength="55.5" lengthAdjust="spacingAndGlyphs">TERRACE</text>
<text x="407.2" y="429.2" font-size="14.5" fill="#565b68" text-anchor="middle" textLength="62.5" lengthAdjust="spacingAndGlyphs">SALEABLE</text>
<text x="103.4" y="449.2" font-size="12" fill="#565b68" text-anchor="middle" textLength="17.2" lengthAdjust="spacingAndGlyphs">201</text>
<text x="136.7" y="449.2" font-size="12" fill="#565b68" text-anchor="middle" textLength="17.2" lengthAdjust="spacingAndGlyphs">202</text>
<text x="173.4" y="449.2" font-size="12" fill="#565b68" text-anchor="middle" textLength="17.2" lengthAdjust="spacingAndGlyphs">203</text>
<text x="210.6" y="449.2" font-size="12" fill="#565b68" text-anchor="middle" textLength="17.2" lengthAdjust="spacingAndGlyphs">204</text>
<text x="267.5" y="449.2" font-size="12" fill="#565b68" text-anchor="middle" textLength="34.2" lengthAdjust="spacingAndGlyphs">646.00</text>
<text x="333.8" y="449.2" font-size="12" fill="#565b68" text-anchor="middle" textLength="27.6" lengthAdjust="spacingAndGlyphs">61.00</text>
<text x="408.2" y="449.2" font-size="12" fill="#565b68" text-anchor="middle" textLength="33.6" lengthAdjust="spacingAndGlyphs">905.00</text>
<text x="103.4" y="468.8" font-size="12" fill="#565b68" text-anchor="middle" textLength="17.2" lengthAdjust="spacingAndGlyphs">401</text>
<text x="136.7" y="468.8" font-size="12" fill="#565b68" text-anchor="middle" textLength="17.2" lengthAdjust="spacingAndGlyphs">402</text>
<text x="173.4" y="468.8" font-size="12" fill="#565b68" text-anchor="middle" textLength="17.2" lengthAdjust="spacingAndGlyphs">403</text>
<text x="210.6" y="468.8" font-size="12" fill="#565b68" text-anchor="middle" textLength="17.2" lengthAdjust="spacingAndGlyphs">404</text>
<text x="267.5" y="468.8" font-size="12" fill="#565b68" text-anchor="middle" textLength="34.2" lengthAdjust="spacingAndGlyphs">646.00</text>
<text x="333.8" y="468.8" font-size="12" fill="#565b68" text-anchor="middle" textLength="27.6" lengthAdjust="spacingAndGlyphs">61.00</text>
<text x="408.2" y="468.8" font-size="12" fill="#565b68" text-anchor="middle" textLength="33.6" lengthAdjust="spacingAndGlyphs">905.00</text>
<text x="103.4" y="488.6" font-size="12" fill="#565b68" text-anchor="middle" textLength="17.2" lengthAdjust="spacingAndGlyphs">601</text>
<text x="136.7" y="488.6" font-size="12" fill="#565b68" text-anchor="middle" textLength="17.2" lengthAdjust="spacingAndGlyphs">602</text>
<text x="173.4" y="488.6" font-size="12" fill="#565b68" text-anchor="middle" textLength="17.2" lengthAdjust="spacingAndGlyphs">603</text>
<text x="210.6" y="488.6" font-size="12" fill="#565b68" text-anchor="middle" textLength="17.2" lengthAdjust="spacingAndGlyphs">604</text>
<text x="267.5" y="488.6" font-size="12" fill="#565b68" text-anchor="middle" textLength="34.2" lengthAdjust="spacingAndGlyphs">646.00</text>
<text x="333.8" y="488.6" font-size="12" fill="#565b68" text-anchor="middle" textLength="27.6" lengthAdjust="spacingAndGlyphs">61.00</text>
<text x="408.2" y="488.6" font-size="12" fill="#565b68" text-anchor="middle" textLength="33.6" lengthAdjust="spacingAndGlyphs">905.00</text>
<text x="262" y="506.6" font-size="8.6" fill="#f4f6fa" text-anchor="middle" font-weight="bold" textLength="176" lengthAdjust="spacingAndGlyphs">SALEABLE  AREA=[CARPET+TERRACE] X 1.28</text>
<text x="43.3" y="55.2" font-size="12.2" font-weight="bold" fill="#fbfbfd" stroke="#fbfbfd" stroke-width="0.25" textLength="68.4" lengthAdjust="spacingAndGlyphs">WING F &amp; G</text>
<text x="181.7" y="55.2" font-size="12.2" font-weight="bold" fill="#fbfbfd" stroke="#fbfbfd" stroke-width="0.25" textLength="70" lengthAdjust="spacingAndGlyphs">TYPE 2 BHK</text>
<text x="322.4" y="55.2" font-size="12.2" font-weight="bold" fill="#fbfbfd" stroke="#fbfbfd" stroke-width="0.25" textLength="141.1" lengthAdjust="spacingAndGlyphs">GARDEN FACING FLATS</text>
<text x="532.4" y="55.2" font-size="12.2" font-weight="bold" fill="#fbfbfd" stroke="#fbfbfd" stroke-width="0.25" textLength="176.3" lengthAdjust="spacingAndGlyphs">2ND, 4TH &amp; 6TH FLOOR PLAN</text></g>
</svg>
</div></body></html>
